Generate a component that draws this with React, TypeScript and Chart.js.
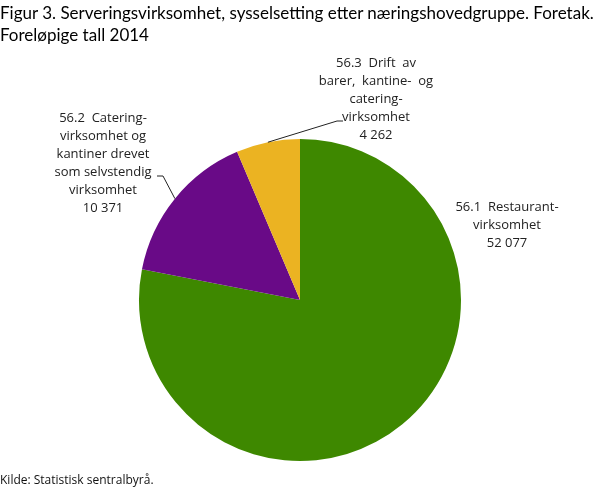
import React, { useEffect, useRef } from "react";
import { Chart, registerables, Plugin } from "chart.js";

Chart.register(...registerables);

const categories = [
  "56.1 Restaurantvirksomhet",
  "56.2 Cateringvirksomhet og kantiner drevet som selvstendig virksomhet",
  "56.3 Drift av barer, kantine- og cateringvirksomhet",
];
const labelLines = [
  ["56.1  Restaurant-", "virksomhet"],
  ["56.2  Catering-", "virksomhet og", "kantiner drevet", "som selvstendig", "virksomhet"],
  ["56.3  Drift  av", "barer,  kantine-  og", "catering-", "virksomhet"],
];
const values = [52077, 10371, 4262];
const colors = ["#3e8800", "#690a87", "#ebb322"];

const fmt = (v: number) => String(v).replace(/\B(?=(\d{3})+(?!\d))/g, " ");

// label placement relative to pie centre; elbow = where the leader line bends
const labelPos = [
  { dx: 207, dy: -93, elbow: null as null | { dx: number; dy: number; stub: number } },
  { dx: -197, dy: -182, elbow: { dx: -137, dy: -124, stub: -6 } },
  { dx: 76, dy: -237, elbow: { dx: 37, dy: -179, stub: 6 } },
];

const pieLabels: Plugin<"pie"> = {
  id: "pieLabels",
  afterDraw(chart) {
    const ctx = chart.ctx;
    const meta = chart.getDatasetMeta(0);
    ctx.save();
    ctx.font = "13px 'Open Sans'";
    ctx.fillStyle = "#222";
    ctx.textAlign = "center";
    ctx.textBaseline = "middle";
    meta.data.forEach((el: any, i) => {
      const { x, y, startAngle, endAngle, outerRadius } = el.getProps(
        ["x", "y", "startAngle", "endAngle", "outerRadius"],
        true
      );
      const p = labelPos[i];
      const lines = [...labelLines[i], fmt(values[i])];
      lines.forEach((t, k) => {
        ctx.fillText(t, x + p.dx, y + p.dy + k * 18);
      });
      if (p.elbow) {
        const mid = (startAngle + endAngle) / 2;
        const ex = x + Math.cos(mid) * outerRadius;
        const ey = y + Math.sin(mid) * outerRadius;
        ctx.beginPath();
        ctx.strokeStyle = "#222";
        ctx.lineWidth = 1;
        ctx.moveTo(ex, ey);
        ctx.lineTo(x + p.elbow.dx, y + p.elbow.dy);
        ctx.lineTo(x + p.elbow.dx + p.elbow.stub, y + p.elbow.dy);
        ctx.stroke();
      }
    });
    ctx.restore();
  },
};

export default function App() {
  const canvasRef = useRef<HTMLCanvasElement | null>(null);

  useEffect(() => {
    document.body.style.margin = "0";
    const ctx = canvasRef.current?.getContext("2d");
    if (!ctx) return;
    const chart = new Chart(ctx, {
      type: "pie",
      data: {
        labels: categories,
        datasets: [
          {
            data: values,
            backgroundColor: colors,
            borderWidth: 0,
          },
        ],
      },
      options: {
        responsive: false,
        animation: false,
        layout: { padding: { left: 139, right: 147, top: 139, bottom: 28 } },
        plugins: {
          legend: { display: false },
          tooltip: { enabled: false },
        },
      },
      plugins: [pieLabels],
    });
    return () => chart.destroy();
  }, []);

  return (
    <div style={{ position: "relative", width: 608, height: 489, background: "#fff" }}>
      <canvas ref={canvasRef} width={608} height={489} style={{ position: "absolute", left: 0, top: 0 }} />
      <div
        style={{
          position: "absolute",
          left: 0,
          top: 2,
          font: "17px Lato",
          lineHeight: "22px",
          color: "#000",
        }}
      >
        Figur 3. Serveringsvirksomhet, sysselsetting etter næringshovedgruppe. Foretak.
        <br />
        Foreløpige tall 2014
      </div>
      <div
        style={{
          position: "absolute",
          left: 0,
          top: 471,
          font: "12px 'Open Sans'",
          color: "#111",
        }}
      >
        Kilde: Statistisk sentralbyrå.
      </div>
    </div>
  );
}
